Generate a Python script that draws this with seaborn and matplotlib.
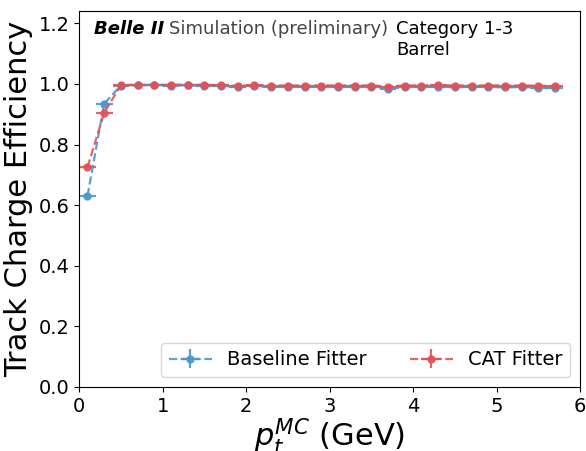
import numpy as np
import matplotlib
matplotlib.use("Agg")
import matplotlib.pyplot as plt
import seaborn as sns

pt_centers = [0.1, 0.3, 0.5, 0.7, 0.9, 1.1, 1.3, 1.5, 1.7, 1.9, 2.1, 2.3, 2.5, 2.7, 2.9,
              3.1, 3.3, 3.5, 3.7, 3.9, 4.1, 4.3, 4.5, 4.7, 4.9, 5.1, 5.3, 5.5, 5.7]
bin_half_width = [0.1] * len(pt_centers)
baseline_eff = [0.630, 0.935, 0.995, 0.996, 0.997, 0.995, 0.996, 0.993, 0.994, 0.991, 0.992,
                0.991, 0.991, 0.991, 0.991, 0.991, 0.990, 0.991, 0.985, 0.989, 0.991, 0.991,
                0.989, 0.991, 0.990, 0.989, 0.990, 0.987, 0.987]
cat_eff = [0.725, 0.905, 0.996, 0.997, 0.997, 0.997, 0.998, 0.997, 0.996, 0.994, 0.996,
           0.995, 0.995, 0.995, 0.995, 0.995, 0.995, 0.995, 0.991, 0.995, 0.995, 0.996,
           0.995, 0.995, 0.995, 0.995, 0.995, 0.994, 0.993]
baseline_err = [0.006, 0.004, 0.002, 0.001, 0.001, 0.001, 0.001, 0.001, 0.001, 0.001, 0.001,
                0.001, 0.001, 0.001, 0.001, 0.001, 0.001, 0.001, 0.002, 0.002, 0.002, 0.002,
                0.002, 0.002, 0.002, 0.002, 0.002, 0.002, 0.002]
cat_err = baseline_err
labels = ["Baseline Fitter", "CAT Fitter"]

sns.reset_orig()
plt.rcParams['font.family'] = ['DejaVu Sans']

fig, ax = plt.subplots(figsize=(5.86, 4.51), dpi=100)
fig.subplots_adjust(left=0.135, right=0.99, top=0.975, bottom=0.142)

blue = "#4a98c9"
red = "#e05257"
for eff, err, col, lab in [(baseline_eff, baseline_err, blue, labels[0]),
                           (cat_eff, cat_err, red, labels[1])]:
    ax.errorbar(pt_centers, eff, xerr=bin_half_width, yerr=err, fmt="o--", color=col,
                markersize=5, linewidth=1.6, elinewidth=1.6, alpha=0.9, label=lab)

ax.set_xlim(0, 6)
ax.set_ylim(0, 1.24)
ax.set_yticks([0.0, 0.2, 0.4, 0.6, 0.8, 1.0, 1.2])
ax.set_xticks([0, 1, 2, 3, 4, 5, 6])
ax.tick_params(labelsize=14)
ax.set_xlabel("$p_t^{MC}$ (GeV)", fontsize=22, labelpad=0)
ax.set_ylabel("Track Charge Efficiency", fontsize=22)

ax.text(0.03, 0.978, "Belle II", transform=ax.transAxes, fontsize=13,
        fontweight="bold", style="italic", va="top")
ax.text(0.18, 0.978, "Simulation (preliminary)", transform=ax.transAxes, fontsize=13,
        color="#444444", va="top")
ax.text(0.632, 0.978, "Category 1-3\nBarrel", transform=ax.transAxes, fontsize=13,
        va="top", linespacing=1.25)

ax.legend(loc="lower right", ncol=2, fontsize=14, frameon=True, columnspacing=2.2,
          handlelength=2.2)

fig.savefig("out.png", dpi=100)
